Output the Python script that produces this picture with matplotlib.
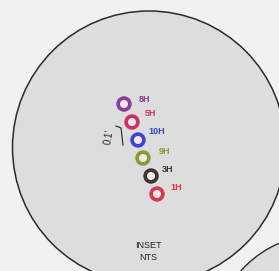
import matplotlib.pyplot as plt
from matplotlib.patches import Circle

plt.rcParams["font.family"] = ["Liberation Sans", "DejaVu Sans"]

# well heads on the inset map (map units = image pixels)
wells = ["8H", "5H", "10H", "9H", "3H", "1H"]
well_x = [124, 132, 138, 143, 151, 157]
well_y = [104, 122, 140, 158, 176, 194]
well_colors = ["#8b3a9e", "#d42d62", "#3a45d6", "#8c9a32", "#3e3530", "#e0344f"]
label_dx = [15, 13, 10, 16, 11, 13]
label_dy = [-5, -9, -9, -7, -7, -6]


fig = plt.figure(figsize=(2.79, 2.71), dpi=100)
fig.patch.set_facecolor("#f1f1f1")

ax = fig.add_axes([0, 0, 1, 1])
ax.set_xlim(0, 279)
ax.set_ylim(271, 0)
ax.set_aspect("auto")
ax.axis("off")

ax.add_patch(
    Circle((149, 147.5), 136.5, facecolor="#dcdede", edgecolor="#2b2b2b", linewidth=1.1)
)
ax.add_patch(
    Circle((320, 340), 105, facecolor="#dcdede", edgecolor="#2b2b2b", linewidth=1.0)
)

ax.scatter(
    well_x,
    well_y,
    s=72,
    facecolors="#f3e9ec",
    edgecolors=well_colors,
    linewidths=2.6,
    zorder=3
)

for name, x, y, dx, dy, c in zip(wells, well_x, well_y, label_dx, label_dy, well_colors):
    ax.text(
        x + dx, y + dy,
        name,
        color=c,
        fontsize=6.5,
        fontweight="bold",
        ha="left",
        va="center"
    )

# small dimension note beside the pad
ax.text(109, 137, "0.1'", rotation=80, fontsize=7, ha="center", va="center", color="#222222")
ax.plot([116, 121, 123], [126, 128, 145], color="#222222", linewidth=0.8)

ax.text(148, 246, "INSET", fontsize=6.5, ha="center", va="center", color="#222222")
ax.text(148, 257, "NTS", fontsize=6.5, ha="center", va="center", color="#222222")

fig.savefig("out.png", dpi=100)
plt.close(fig)
